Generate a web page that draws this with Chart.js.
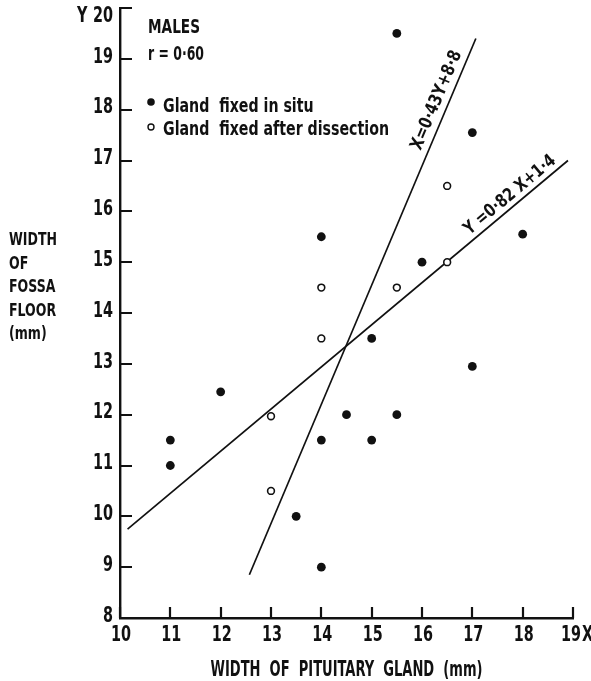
<!DOCTYPE html>
<html>
<head>
<meta charset="utf-8">
<script src="https://cdn.jsdelivr.net/npm/chart.js@4.4.1/dist/chart.umd.min.js"></script>
<style>
  html, body { margin: 0; padding: 0; background: #fff; }
  #wrap { width: 591px; height: 681px; }
</style>
</head>
<body>
<div id="wrap"><canvas id="c" width="591" height="681"></canvas></div>
<script>
// ---- data ----
const inSituX = [11, 11, 12, 13.5, 14, 14, 14, 14.5, 15, 15, 15.5, 15.5, 16, 17, 17, 18];
const inSituY = [11.5, 11, 12.45, 10, 9, 11.5, 15.5, 12, 11.5, 13.5, 12, 19.5, 15, 17.55, 12.95, 15.55];
const dissX = [13, 13, 14, 14, 15.5, 16.5, 16.5];
const dissY = [11.97, 10.5, 13.5, 14.5, 14.5, 15, 16.5];
// regression lines (end points)
const lineYonX_X = [10.15, 18.9];
const lineYonX_Y = [9.75, 17.0];
const lineXonY_X = [12.57, 17.07];
const lineXonY_Y = [8.85, 19.4];
const xTicks = [10, 11, 12, 13, 14, 15, 16, 17, 18, 19];
const yTicks = [8, 9, 10, 11, 12, 13, 14, 15, 16, 17, 18, 19, 20];
const seriesNames = ['Gland  fixed in situ', 'Gland  fixed after dissection'];
const headerLines = ['MALES', 'r = 0·60'];
const yTitleLines = ['WIDTH', 'OF', 'FOSSA', 'FLOOR', '(mm)'];
const xTitle = 'WIDTH  OF  PITUITARY  GLAND  (mm)';
const eqYonX = 'Y =0·82 X+1·4';
const eqXonY = 'X=0·43Y+8·8';

const FONT = '"DejaVu Sans Condensed", "DejaVu Sans", sans-serif';
const zip = (xs, ys) => xs.map((x, i) => ({ x, y: ys[i] }));

// draw text squeezed horizontally (sx) to mimic the narrow typeface of the original
function sqText(ctx, t, x, y, size, sx, align, baseline) {
  ctx.save();
  ctx.font = 'bold ' + size + 'px ' + FONT;
  ctx.textAlign = align || 'left';
  ctx.textBaseline = baseline || 'alphabetic';
  ctx.translate(x, y);
  ctx.scale(sx, 1);
  ctx.fillText(t, 0, 0);
  ctx.restore();
}
function fitScale(ctx, t, size, target) {
  ctx.save();
  ctx.font = 'bold ' + size + 'px ' + FONT;
  const w = ctx.measureText(t).width;
  ctx.restore();
  return target / w;
}

const decor = {
  id: 'decor',
  afterDraw(chart) {
    const { ctx, scales: { x, y }, chartArea: ca } = chart;
    ctx.save();
    ctx.strokeStyle = '#111';
    ctx.fillStyle = '#111';
    ctx.lineWidth = 2.2;
    // inside tick marks
    ctx.beginPath();
    yTicks.forEach(v => {
      const py = Math.round(y.getPixelForValue(v));
      ctx.moveTo(ca.left, py); ctx.lineTo(ca.left + 12, py);
    });
    xTicks.forEach(v => {
      const px = Math.round(x.getPixelForValue(v));
      ctx.moveTo(px, ca.bottom); ctx.lineTo(px, ca.bottom - 11);
    });
    ctx.stroke();

    // tick labels
    const TS = 22;
    const tsx = fitScale(ctx, '10', TS, 20);
    yTicks.forEach(v => {
      const py = y.getPixelForValue(v) + (v === 20 ? 8.5 : -2);
      sqText(ctx, String(v), ca.left - 7, py, TS, tsx, 'right', 'middle');
    });
    xTicks.forEach(v => {
      sqText(ctx, String(v), x.getPixelForValue(v) + (v === 19 ? -2 : 1), ca.bottom + 17.5, TS, tsx, 'center', 'middle');
    });
    // axis letters
    sqText(ctx, 'Y', 77, y.getPixelForValue(20) + 8.5, TS, tsx, 'left', 'middle');
    sqText(ctx, 'X', 582, ca.bottom + 17.5, TS, tsx, 'left', 'middle');

    // header + legend
    const LS = 19;
    sqText(ctx, headerLines[0], 148, 33, LS, fitScale(ctx, headerLines[0], LS, 52), 'left');
    sqText(ctx, headerLines[1], 148, 60, LS, fitScale(ctx, headerLines[1], LS, 56), 'left');
    const ds = chart.data.datasets;
    const lsx = fitScale(ctx, seriesNames[1], LS, 226);
    const dotY = [102, 127];
    const baseY = [112, 135];
    [0, 1].forEach(i => {
      ctx.beginPath();
      ctx.arc(151, dotY[i], i === 0 ? 3.8 : 3, 0, Math.PI * 2);
      if (i === 0) { ctx.fillStyle = ds[0].backgroundColor; ctx.fill(); }
      else { ctx.fillStyle = '#fff'; ctx.fill(); ctx.lineWidth = 1.4; ctx.strokeStyle = '#111'; ctx.stroke(); }
      ctx.fillStyle = '#111';
      sqText(ctx, seriesNames[i], 163, baseY[i], LS, lsx, 'left');
    });

    // y-axis title (horizontal lines)
    const ysx = fitScale(ctx, yTitleLines[0], 17, 48);
    yTitleLines.forEach((t, i) => sqText(ctx, t, 9, 245 + i * 23.5, 17, ysx, 'left'));

    // x-axis title
    sqText(ctx, xTitle, (ca.left + ca.right) / 2, 676, 21, fitScale(ctx, xTitle, 21, 272), 'center');

    // equation labels along the lines
    const label = (xs, ys, frac, txt, off, target) => {
      const x0 = x.getPixelForValue(xs[0]), y0 = y.getPixelForValue(ys[0]);
      const x1 = x.getPixelForValue(xs[1]), y1 = y.getPixelForValue(ys[1]);
      const ang = Math.atan2(y1 - y0, x1 - x0);
      const px = x0 + (x1 - x0) * frac, py = y0 + (y1 - y0) * frac;
      ctx.save();
      ctx.translate(px, py);
      ctx.rotate(ang);
      sqText(ctx, txt, 0, -off, 18, fitScale(ctx, txt, 18, target), 'center', 'middle');
      ctx.restore();
    };
    label(lineXonY_X, lineXonY_Y, 0.876, eqXonY, 12, 106);
    label(lineYonX_X, lineYonX_Y, 0.884, eqYonX, 10.5, 114);
    ctx.restore();
  }
};

new Chart(document.getElementById('c'), {
  type: 'scatter',
  data: {
    datasets: [
      { label: seriesNames[0], data: zip(inSituX, inSituY), backgroundColor: '#111', borderColor: '#111',
        pointRadius: 4.4, borderWidth: 0, order: 1 },
      { label: seriesNames[1], data: zip(dissX, dissY), backgroundColor: '#fff', borderColor: '#111',
        pointRadius: 3.4, borderWidth: 1.6, order: 0 },
      { label: 'Y on X', data: zip(lineYonX_X, lineYonX_Y), showLine: true, pointRadius: 0,
        borderColor: '#111', borderWidth: 1.7, order: 3 },
      { label: 'X on Y', data: zip(lineXonY_X, lineXonY_Y), showLine: true, pointRadius: 0,
        borderColor: '#111', borderWidth: 1.7, order: 3 }
    ]
  },
  options: {
    responsive: false,
    animation: false,
    devicePixelRatio: 1,
    layout: { padding: { left: 0, right: 18, top: 8, bottom: 0 } },
    plugins: { legend: { display: false }, tooltip: { enabled: false } },
    scales: {
      x: {
        type: 'linear', min: 10, max: 19,
        afterBuildTicks: s => { s.ticks = xTicks.map(v => ({ value: v })); },
        ticks: { display: false },
        grid: { display: true, drawOnChartArea: false, drawTicks: false },
        border: { display: true, color: '#111', width: 2.4 },
        afterFit: s => { s.height = 63; s.paddingLeft = 0; s.paddingRight = 0; }
      },
      y: {
        type: 'linear', min: 8, max: 20,
        afterBuildTicks: s => { s.ticks = yTicks.map(v => ({ value: v })); },
        ticks: { display: false },
        grid: { display: true, drawOnChartArea: false, drawTicks: false },
        border: { display: true, color: '#111', width: 2.4 },
        afterFit: s => { s.width = 120; s.paddingTop = 0; s.paddingBottom = 0; }
      }
    }
  },
  plugins: [decor]
});
</script>
</body>
</html>
